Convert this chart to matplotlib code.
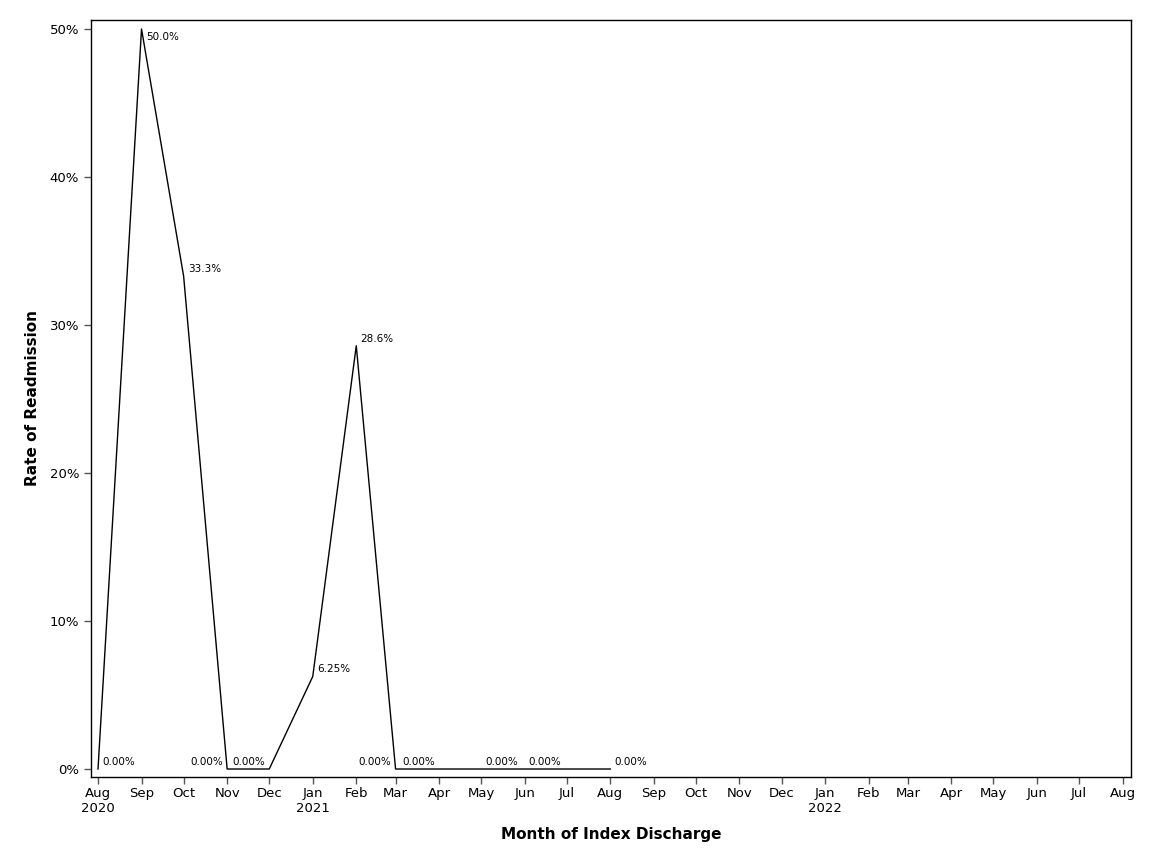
import datetime as dt
import matplotlib
matplotlib.use('Agg')
import matplotlib.pyplot as plt
from matplotlib.ticker import FuncFormatter

# data (Jul 2021 has no point)
months = ['2020-08', '2020-09', '2020-10', '2020-11', '2020-12', '2021-01',
          '2021-02', '2021-03', '2021-04', '2021-05', '2021-06', '2021-08']
rates = [0.0, 50.0, 33.3, 0.0, 0.0, 6.25, 28.6, 0.0, 0.0, 0.0, 0.0, 0.0]
labels = ['0.00%', '50.0%', '33.3%', '0.00%', '0.00%', '6.25%',
          '28.6%', '0.00%', '0.00%', '0.00%', '0.00%', '0.00%']
label_side = ['r', 'r', 'r', 'l', 'l', 'r', 'r', 'l', 'l', 'r', 'r', 'r']

yticks = [0, 10, 20, 30, 40, 50]

dates = [dt.datetime.strptime(m, '%Y-%m') for m in months]

plt.rcParams['font.family'] = ['DejaVu Sans']
fig = plt.figure(figsize=(11.52, 8.64), dpi=100)
ax = fig.add_axes([91/1152, 1-777/864, (1131-91)/1152, (777-20)/864])

ax.plot(dates, rates, color='black', lw=1)

ymax = max(rates)
for d, r, lab, side in zip(dates, rates, labels, label_side):
    if r == ymax:
        # top label pushed under the point
        ax.annotate(lab, (d, r), xytext=(3, -2), textcoords='offset points',
                    ha='left', va='top', fontsize=7.5)
    elif side == 'r':
        ax.annotate(lab, (d, r), xytext=(3, 1.5), textcoords='offset points',
                    ha='left', va='bottom', fontsize=7.5)
    else:
        ax.annotate(lab, (d, r), xytext=(-3, 1.5), textcoords='offset points',
                    ha='right', va='bottom', fontsize=7.5)

ax.set_xlim(dt.datetime(2020, 7, 27), dt.datetime(2022, 8, 7))
ax.set_ylim(-0.54, 50.61)

ax.set_yticks(yticks)
ax.yaxis.set_major_formatter(FuncFormatter(lambda v, p: '%d%%' % v))

ticks = [dt.datetime(2020 + (7 + i) // 12, (7 + i) % 12 + 1, 1) for i in range(25)]
ax.set_xticks(ticks)
ticklabels = []
for t in ticks:
    s = t.strftime('%b')
    if t == ticks[0] or t.month == 1:
        s += '\n%d' % t.year
    ticklabels.append(s)
ax.set_xticklabels(ticklabels, fontsize=9.5, va='top')
ax.tick_params(axis='y', labelsize=9.5)
ax.tick_params(direction='out', length=5, color='#555555', width=1)
ax.tick_params(axis='x', pad=2)

ax.set_xlabel('Month of Index Discharge', fontsize=11, fontweight='bold', labelpad=9)
ax.set_ylabel('Rate of Readmission', fontsize=11, fontweight='bold', labelpad=7)

for s in ax.spines.values():
    s.set_linewidth(1)

fig.savefig('out.png', dpi=100)
